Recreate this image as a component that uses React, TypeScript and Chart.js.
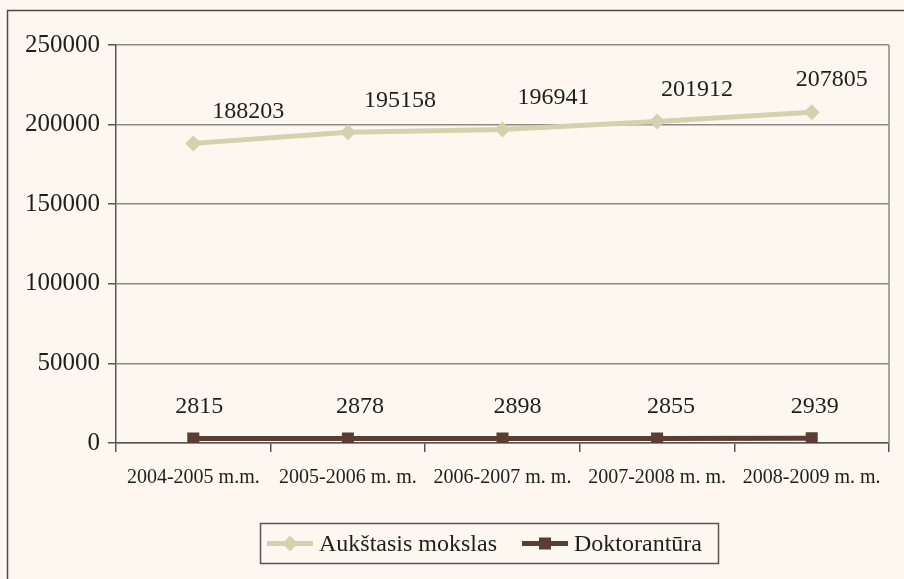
import React, { useEffect, useRef } from "react";
import { Chart, registerables } from "chart.js";

Chart.register(...registerables);

const categories = [
  "2004-2005 m.m.",
  "2005-2006 m. m.",
  "2006-2007 m. m.",
  "2007-2008 m. m.",
  "2008-2009 m. m.",
];
const aukstasis = [188203, 195158, 196941, 201912, 207805];
const doktorantura = [2815, 2878, 2898, 2855, 2939];
const seriesNames = ["Aukštasis mokslas", "Doktorantūra"];

const BG = "#fcf8f0";
const LIGHT = "#d3d1ae";
const DARK = "#5c3d33";
const FONT = "'Liberation Serif', 'Times New Roman', serif";

// style-only label offsets (px) relative to each point
const labelDx = [
  [55, 52, 51, 40, 20],
  [6, 12, 15, 14, 3],
];
const labelDy = -32;

const decorPlugin = {
  id: "decor",
  beforeDraw(chart: any) {
    const { ctx, width, height } = chart;
    ctx.save();
    ctx.fillStyle = BG;
    ctx.fillRect(0, 0, width, height);
    // outer frame
    ctx.strokeStyle = "#4a4a4a";
    ctx.lineWidth = 1.5;
    ctx.beginPath();
    ctx.moveTo(7.5, height + 5);
    ctx.lineTo(7.5, 10.5);
    ctx.lineTo(width + 5, 10.5);
    ctx.stroke();
    ctx.restore();
  },
  afterDatasetsDraw(chart: any) {
    const { ctx, chartArea } = chart;
    ctx.save();
    // right border of plot area
    ctx.strokeStyle = "#8a8a8a";
    ctx.lineWidth = 1.5;
    ctx.beginPath();
    ctx.moveTo(chartArea.right, chartArea.top);
    ctx.lineTo(chartArea.right, chartArea.bottom);
    ctx.stroke();

    // data labels
    ctx.fillStyle = "#1e1e1e";
    ctx.font = `24px ${FONT}`;
    ctx.textAlign = "center";
    ctx.textBaseline = "middle";
    chart.data.datasets.forEach((ds: any, di: number) => {
      const meta = chart.getDatasetMeta(di);
      meta.data.forEach((pt: any, i: number) => {
        ctx.fillText(String(ds.data[i]), pt.x + labelDx[di][i], pt.y + labelDy);
      });
    });

    // legend
    const boxL = 260.5, boxT = 523.5, boxW = 458, boxH = 40;
    ctx.strokeStyle = "#555";
    ctx.lineWidth = 1.5;
    ctx.strokeRect(boxL, boxT, boxW, boxH);
    const cy = boxT + boxH / 2;
    const items = [
      { x: 267, color: LIGHT, style: "diamond" },
      { x: 522, color: DARK, style: "square" },
    ];
    ctx.textAlign = "left";
    items.forEach((it, i) => {
      ctx.strokeStyle = it.color;
      ctx.lineWidth = 5;
      ctx.beginPath();
      ctx.moveTo(it.x, cy);
      ctx.lineTo(it.x + 46, cy);
      ctx.stroke();
      ctx.fillStyle = it.color;
      const mx = it.x + 23;
      ctx.beginPath();
      if (it.style === "diamond") {
        ctx.moveTo(mx - 8, cy);
        ctx.lineTo(mx, cy - 8);
        ctx.lineTo(mx + 8, cy);
        ctx.lineTo(mx, cy + 8);
        ctx.closePath();
      } else {
        ctx.rect(mx - 6, cy - 6, 12, 12);
      }
      ctx.fill();
      ctx.fillStyle = "#1e1e1e";
      ctx.font = `24px ${FONT}`;
      ctx.fillText(chart.data.datasets[i].label, it.x + 52, cy + 1);
    });
    ctx.restore();
  },
};

export default function App() {
  const ref = useRef<HTMLCanvasElement | null>(null);
  useEffect(() => {
    if (!ref.current) return;
    const chart = new Chart(ref.current, {
      type: "line",
      data: {
        labels: categories,
        datasets: [
          {
            label: seriesNames[0],
            data: aukstasis,
            borderColor: LIGHT,
            backgroundColor: LIGHT,
            borderWidth: 5,
            pointStyle: "rectRot",
            pointRadius: 8,
            pointBorderWidth: 0,
            tension: 0,
          },
          {
            label: seriesNames[1],
            data: doktorantura,
            borderColor: DARK,
            backgroundColor: DARK,
            borderWidth: 5,
            pointStyle: "rect",
            pointRadius: 8.5,
            pointBorderWidth: 0,
            tension: 0,
          },
        ],
      },
      options: {
        responsive: false,
        animation: false,
        layout: { padding: { left: 8, top: 45, right: 15, bottom: 0 } },
        plugins: {
          legend: { display: false },
          tooltip: { enabled: false },
        },
        scales: {
          x: {
            offset: true,
            grid: {
              offset: true,
              drawOnChartArea: false,
              drawTicks: true,
              tickLength: 9,
              color: "#555",
              lineWidth: 1.5,
            },
            border: { color: "#555", width: 1.5 },
            ticks: {
              color: "#1e1e1e",
              font: { family: FONT, size: 20 },
              padding: 14,
              maxRotation: 0,
              autoSkip: false,
            },
            afterFit(scale: any) {
              scale.height = 136;
            },
          },
          y: {
            min: 0,
            max: 250000,
            grid: {
              color: "#8a8a8a",
              lineWidth: 1.5,
              tickLength: 8,
              tickColor: "#555",
            },
            border: { color: "#555", width: 1.5 },
            ticks: {
              stepSize: 50000,
              color: "#1e1e1e",
              font: { family: FONT, size: 25 },
              padding: 8,
              callback: (v: any) => String(v),
            },
            afterFit(scale: any) {
              scale.width = 108;
            },
          },
        },
      },
      plugins: [decorPlugin],
    });
    return () => chart.destroy();
  }, []);
  return (
    <div style={{ position: "absolute", left: 0, top: 0, width: 904, height: 579 }}>
      <canvas ref={ref} width={904} height={579} style={{ width: 904, height: 579, display: "block" }} />
    </div>
  );
}
